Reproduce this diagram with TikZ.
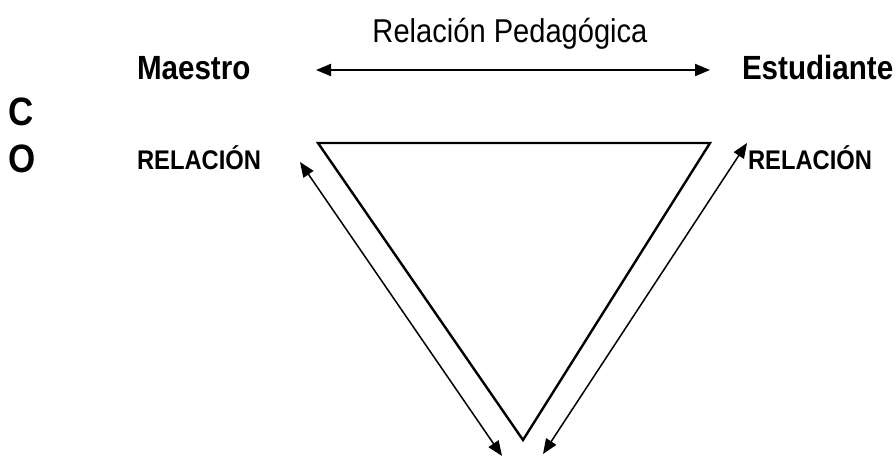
\documentclass[tikz,border=0pt]{standalone}
\usepackage{fontspec}
\setmainfont{Liberation Sans}
\usetikzlibrary{arrows.meta}
\newcommand{\tallt}[1]{\scalebox{0.97}[1.1]{#1}}
\tikzset{
  lbl/.style={inner sep=0pt, outer sep=0pt, anchor=base west},
  big/.style={lbl, font=\fontsize{30.5}{30}\selectfont\bfseries},
  side/.style={lbl, font=\fontsize{24.5}{24}\selectfont\bfseries},
  co/.style={lbl, font=\fontsize{36}{36}\selectfont\bfseries},
  tri/.style={line width=2.4pt, line join=miter},
  rel/.style={line width=1.5pt, {Triangle[length=15pt,width=12pt]}-{Triangle[length=15pt,width=12pt]}},
  relh/.style={rel, line width=2pt}
}
\begin{document}
\begin{tikzpicture}[x=1pt,y=-1pt]
\useasboundingbox (0,0) rectangle (896,457);
\node[lbl, anchor=base, font=\fontsize{30}{30}\selectfont] (ped) at (510,43) {\tallt{Relación Pedagógica}};
\node[big] (maestro) at (137,80) {\tallt{Maestro}};
\node[big] (estud) at (742,80) {\tallt{Estudiante}};
\node[co] (c) at (9,126) {\tallt{C}};
\node[co] (o) at (9,173) {\tallt{O}};
\node[side] (relL) at (137,170) {\tallt{RELACIÓN}};
\node[side] (relR) at (748,170) {\tallt{RELACIÓN}};
\coordinate (tl) at (318,143);
\coordinate (tr) at (710,143);
\coordinate (bv) at (523,440);
\draw[tri] (tl) -- (tr) -- (bv) -- cycle;
\coordinate (ha) at (316,70);
\coordinate (hb) at (710,70);
\draw[relh] (ha) -- (hb);
\coordinate (la) at (300,162);
\coordinate (lb) at (502,456);
\draw[rel] (la) -- (lb);
\coordinate (ra) at (747,143);
\coordinate (rb) at (543,454);
\draw[rel] (ra) -- (rb);
\end{tikzpicture}
\end{document}
